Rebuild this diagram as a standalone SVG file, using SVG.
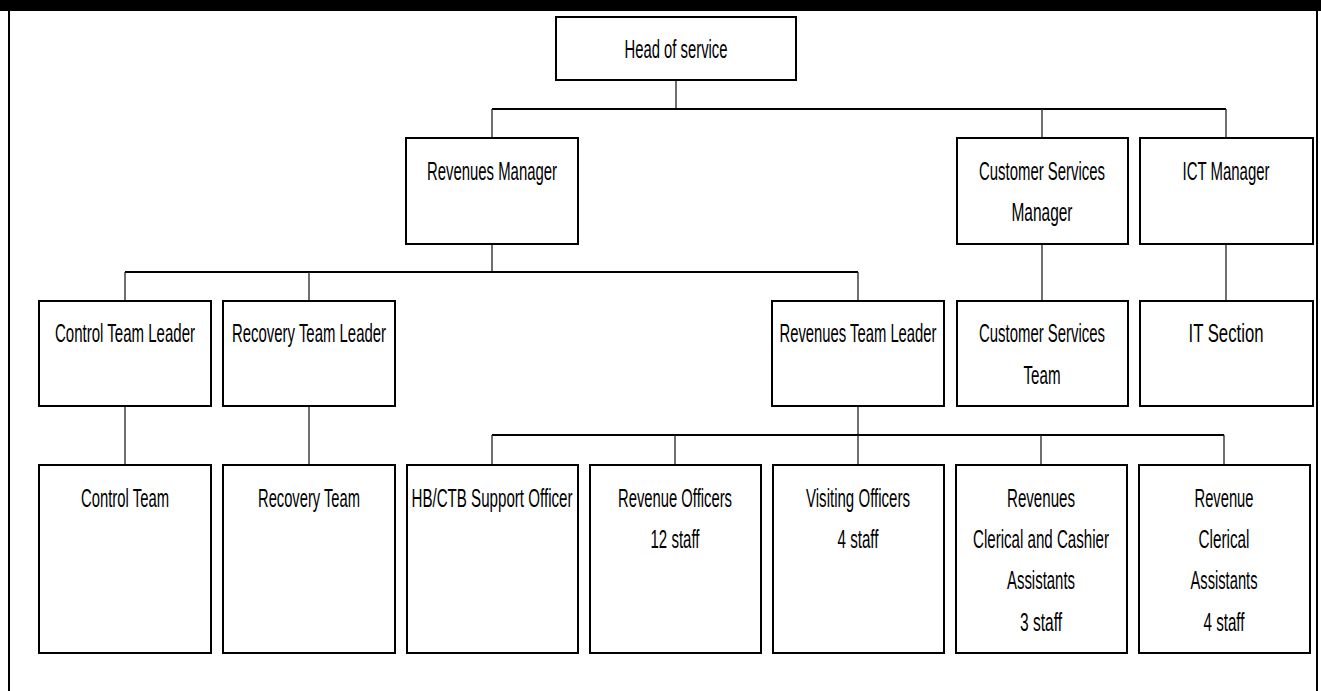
<svg xmlns="http://www.w3.org/2000/svg" width="1321" height="691" viewBox="0 0 1321 691">
<style>
.box{fill:#fff;stroke:#000;stroke-width:2}
.t{font-family:"Liberation Sans",Arial,sans-serif;font-size:25px;fill:#000;text-anchor:middle}
.h{stroke:#000;stroke-width:2;fill:none}
.v{stroke:#222;stroke-width:1.3;fill:none}
</style>
<rect x="0" y="0" width="1321" height="11" fill="#000"/>
<rect x="8" y="0" width="2" height="691" fill="#000"/>
<rect x="1316" y="0" width="2" height="691" fill="#000"/>
<g id="connectors">
<line class="v" x1="676" y1="80" x2="676" y2="109"/>
<line class="h" x1="492" y1="109" x2="1226" y2="109"/>
<line class="v" x1="492" y1="109" x2="492" y2="138"/>
<line class="v" x1="1042" y1="109" x2="1042" y2="138"/>
<line class="v" x1="1226" y1="109" x2="1226" y2="138"/>
<line class="v" x1="492" y1="244" x2="492" y2="272"/>
<line class="h" x1="125" y1="272" x2="858" y2="272"/>
<line class="v" x1="125" y1="272" x2="125" y2="301"/>
<line class="v" x1="309" y1="272" x2="309" y2="301"/>
<line class="v" x1="858" y1="272" x2="858" y2="301"/>
<line class="v" x1="1042" y1="244" x2="1042" y2="301"/>
<line class="v" x1="1226" y1="244" x2="1226" y2="301"/>
<line class="v" x1="125" y1="406" x2="125" y2="465"/>
<line class="v" x1="309" y1="406" x2="309" y2="465"/>
<line class="v" x1="858" y1="406" x2="858" y2="435"/>
<line class="h" x1="492" y1="435" x2="1224" y2="435"/>
<line class="v" x1="492" y1="435" x2="492" y2="465"/>
<line class="v" x1="675" y1="435" x2="675" y2="465"/>
<line class="v" x1="858" y1="435" x2="858" y2="465"/>
<line class="v" x1="1041" y1="435" x2="1041" y2="465"/>
<line class="v" x1="1224" y1="435" x2="1224" y2="465"/>
</g>
<g id="head"><rect class="box" x="556" y="17" width="240" height="63"/><text class="t" x="676" y="58" textLength="103" lengthAdjust="spacingAndGlyphs">Head of service</text></g>
<g id="revenues-manager"><rect class="box" x="406" y="138" width="172" height="106"/><text class="t" x="492" y="180" textLength="130" lengthAdjust="spacingAndGlyphs">Revenues Manager</text></g>
<g id="cs-manager"><rect class="box" x="957" y="138" width="171" height="106"/><text class="t" x="1042" y="180" textLength="126" lengthAdjust="spacingAndGlyphs">Customer Services</text><text class="t" x="1042" y="221" textLength="61" lengthAdjust="spacingAndGlyphs">Manager</text></g>
<g id="ict-manager"><rect class="box" x="1140" y="138" width="173" height="106"/><text class="t" x="1226" y="180" textLength="87" lengthAdjust="spacingAndGlyphs">ICT Manager</text></g>
<g id="control-tl"><rect class="box" x="39" y="301" width="172" height="105"/><text class="t" x="125" y="342" textLength="140" lengthAdjust="spacingAndGlyphs">Control Team Leader</text></g>
<g id="recovery-tl"><rect class="box" x="223" y="301" width="172" height="105"/><text class="t" x="309" y="342" textLength="154" lengthAdjust="spacingAndGlyphs">Recovery Team Leader</text></g>
<g id="revenues-tl"><rect class="box" x="772" y="301" width="172" height="105"/><text class="t" x="858" y="342" textLength="157" lengthAdjust="spacingAndGlyphs">Revenues Team Leader</text></g>
<g id="cs-team"><rect class="box" x="957" y="301" width="171" height="105"/><text class="t" x="1042" y="342" textLength="126" lengthAdjust="spacingAndGlyphs">Customer Services</text><text class="t" x="1042" y="384" textLength="37" lengthAdjust="spacingAndGlyphs">Team</text></g>
<g id="it-section"><rect class="box" x="1140" y="301" width="173" height="105"/><text class="t" x="1226" y="342" textLength="75" lengthAdjust="spacingAndGlyphs">IT Section</text></g>
<g id="control-team"><rect class="box" x="39" y="465" width="172" height="188"/><text class="t" x="125" y="507" textLength="88" lengthAdjust="spacingAndGlyphs">Control Team</text></g>
<g id="recovery-team"><rect class="box" x="223" y="465" width="172" height="188"/><text class="t" x="309" y="507" textLength="102" lengthAdjust="spacingAndGlyphs">Recovery Team</text></g>
<g id="hbctb"><rect class="box" x="407" y="465" width="171" height="188"/><text class="t" x="492" y="507" textLength="161" lengthAdjust="spacingAndGlyphs">HB/CTB Support Officer</text></g>
<g id="revenue-officers"><rect class="box" x="590" y="465" width="171" height="188"/><text class="t" x="675" y="507" textLength="114" lengthAdjust="spacingAndGlyphs">Revenue Officers</text><text class="t" x="675" y="548" textLength="49" lengthAdjust="spacingAndGlyphs">12 staff</text></g>
<g id="visiting-officers"><rect class="box" x="773" y="465" width="171" height="188"/><text class="t" x="858" y="507" textLength="104" lengthAdjust="spacingAndGlyphs">Visiting Officers</text><text class="t" x="858" y="548" textLength="41" lengthAdjust="spacingAndGlyphs">4 staff</text></g>
<g id="rev-clerical-cashier"><rect class="box" x="956" y="465" width="171" height="188"/><text class="t" x="1041" y="507" textLength="68" lengthAdjust="spacingAndGlyphs">Revenues</text><text class="t" x="1041" y="548" textLength="136" lengthAdjust="spacingAndGlyphs">Clerical and Cashier</text><text class="t" x="1041" y="589" textLength="68" lengthAdjust="spacingAndGlyphs">Assistants</text><text class="t" x="1041" y="631" textLength="42" lengthAdjust="spacingAndGlyphs">3 staff</text></g>
<g id="rev-clerical"><rect class="box" x="1139" y="465" width="171" height="188"/><text class="t" x="1224" y="507" textLength="59" lengthAdjust="spacingAndGlyphs">Revenue</text><text class="t" x="1224" y="548" textLength="51" lengthAdjust="spacingAndGlyphs">Clerical</text><text class="t" x="1224" y="589" textLength="67" lengthAdjust="spacingAndGlyphs">Assistants</text><text class="t" x="1224" y="631" textLength="41" lengthAdjust="spacingAndGlyphs">4 staff</text></g>
</svg>
